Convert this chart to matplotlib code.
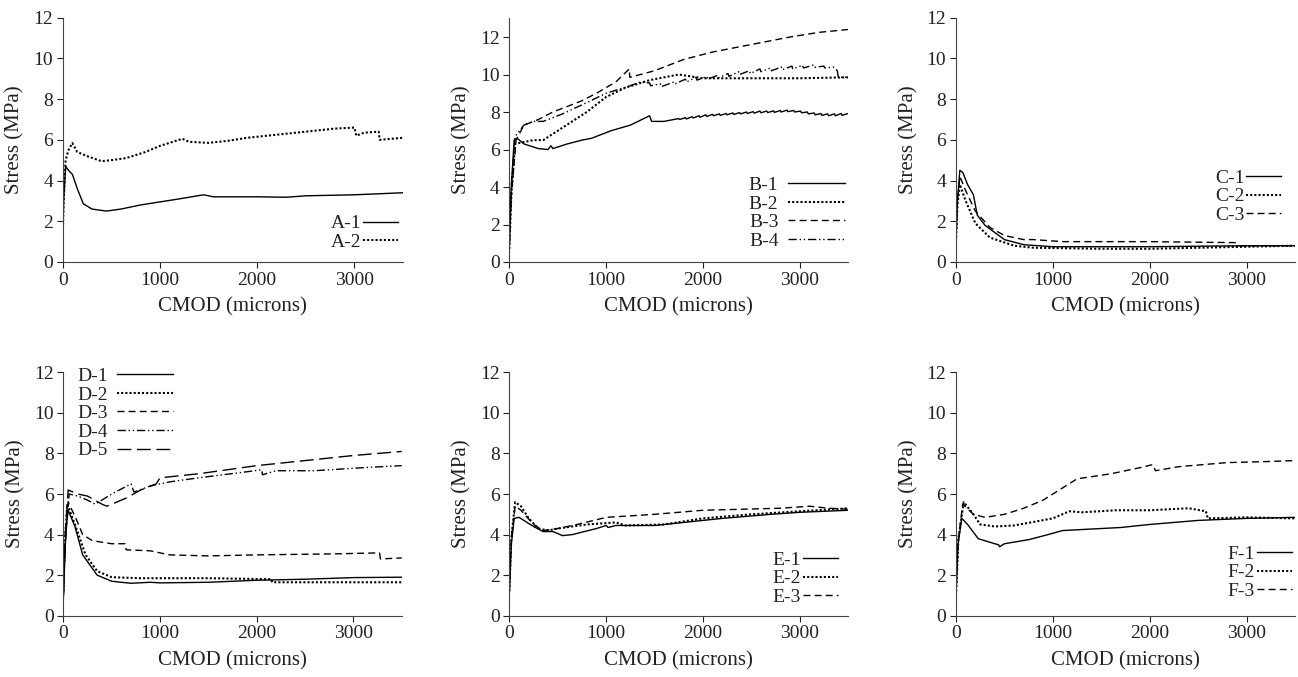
import matplotlib
matplotlib.use("Agg")
import matplotlib.pyplot as plt

plt.rcParams["font.family"] = ["Liberation Serif", "DejaVu Serif"]
plt.rcParams["text.color"] = "#222222"
plt.rcParams["axes.labelcolor"] = "#222222"
plt.rcParams["xtick.color"] = "#222222"
plt.rcParams["ytick.color"] = "#222222"

# --- panel A ---
a1_x = [0, 10, 30, 60, 100, 150, 212, 300, 450, 600, 800, 1000, 1200, 1450, 1550, 2000, 2300, 2500, 3000, 3500]
a1_y = [1.2, 3.0, 4.7, 4.5, 4.3, 3.6, 2.86, 2.6, 2.5, 2.6, 2.8, 2.95, 3.1, 3.3, 3.2, 3.2, 3.18, 3.25, 3.3, 3.4]
a2_x = [0, 10, 30, 60, 100, 150, 250, 400, 500, 650, 850, 1000, 1230, 1300, 1500, 1700, 1900, 2200, 2500, 2800, 3000, 3020, 3100, 3250, 3260, 3500]
a2_y = [1.2, 3.0, 5.0, 5.5, 5.84, 5.4, 5.2, 4.95, 5.0, 5.1, 5.4, 5.7, 6.05, 5.9, 5.85, 5.95, 6.1, 6.25, 6.4, 6.55, 6.6, 6.2, 6.35, 6.4, 6.0, 6.1]

# --- panel B ---
b1_x = [0, 20, 50, 80, 150, 300, 400, 430, 450, 600, 750, 850, 1050, 1250, 1450, 1470, 1600,
        1700, 1750, 1760, 1820, 1830, 1890, 1900, 1960, 1970, 2030, 2040, 2100, 2110, 2170, 2180,
        2240, 2250, 2310, 2320, 2380, 2390, 2450, 2460, 2520, 2530, 2590, 2600, 2660, 2670, 2730,
        2740, 2800, 2810, 2870, 2880, 2940, 2950, 3010, 3020, 3080, 3090, 3150, 3160, 3220, 3230,
        3290, 3300, 3360, 3370, 3430, 3440, 3500]
b1_y = [0.8, 4.0, 6.5, 6.6, 6.3, 6.05, 6.0, 6.2, 6.05, 6.3, 6.5, 6.6, 7.0, 7.3, 7.8, 7.5, 7.5,
        7.6, 7.65, 7.6, 7.7, 7.63, 7.75, 7.68, 7.8, 7.72, 7.85, 7.76, 7.88, 7.8, 7.9, 7.82,
        7.92, 7.85, 7.95, 7.87, 7.97, 7.9, 8.0, 7.92, 8.02, 7.94, 8.05, 7.96, 8.05, 7.97, 8.06,
        7.98, 8.08, 8.0, 8.1, 8.02, 8.08, 8.0, 8.05, 7.96, 8.0, 7.9, 7.95, 7.85, 7.92, 7.82,
        7.9, 7.8, 7.9, 7.8, 7.92, 7.82, 7.92]
b2_x = [0, 20, 60, 150, 250, 350, 500, 650, 800, 1000, 1200, 1450, 1750, 2000, 2500, 3000, 3500]
b2_y = [0.7, 3.5, 6.3, 6.4, 6.5, 6.5, 7.0, 7.5, 8.0, 8.8, 9.3, 9.7, 10.0, 9.8, 9.8, 9.8, 9.85]
b3_x = [0, 20, 70, 150, 250, 300, 450, 750, 900, 1100, 1240, 1245, 1500, 1800, 2100, 2500, 2900, 3200, 3500]
b3_y = [1.0, 3.5, 6.5, 7.3, 7.5, 7.6, 8.0, 8.6, 9.0, 9.6, 10.3, 9.85, 10.2, 10.8, 11.2, 11.6, 12.0, 12.25, 12.4]
b4_x = [0, 20, 60, 150, 250, 350, 550, 800, 1000, 1250, 1350, 1450, 1460, 1560, 1570, 1700, 1710,
        1820, 1830, 1930, 1940, 2040, 2050, 2150, 2160, 2260, 2270, 2370, 2380, 2480, 2490, 2590,
        2600, 2700, 2710, 2810, 2820, 2920, 2930, 3030, 3040, 3140, 3150, 3250, 3260, 3350, 3390,
        3400, 3500]
b4_y = [1.0, 4.0, 6.7, 7.3, 7.5, 7.5, 7.9, 8.5, 9.0, 9.4, 9.6, 9.55, 9.4, 9.5, 9.35, 9.6, 9.5,
        9.75, 9.6, 9.85, 9.7, 9.9, 9.75, 9.95, 9.82, 10.05, 9.9, 10.15, 10.0, 10.2, 10.05, 10.3,
        10.15, 10.35, 10.2, 10.4, 10.25, 10.45, 10.3, 10.5, 10.35, 10.5, 10.38, 10.45, 10.35, 10.4, 10.2,
        9.85, 9.85]

# --- panel C ---
c1_x = [0, 15, 40, 70, 120, 180, 220, 300, 500, 700, 1000, 2000, 3000, 3500]
c1_y = [1.0, 3.0, 4.5, 4.4, 3.8, 3.3, 2.3, 1.8, 1.1, 0.85, 0.75, 0.75, 0.8, 0.8]
c2_x = [0, 15, 40, 100, 200, 350, 600, 800, 1500, 2000, 3000, 3500]
c2_y = [1.0, 2.8, 3.8, 3.0, 1.9, 1.2, 0.8, 0.7, 0.65, 0.65, 0.75, 0.8]
c3_x = [0, 15, 40, 100, 200, 350, 500, 700, 800, 1100, 2000, 2900, 2920, 3500]
c3_y = [1.0, 3.0, 4.2, 3.5, 2.5, 1.7, 1.3, 1.1, 1.1, 1.0, 1.0, 0.95, 0.8, 0.8]

# --- panel D ---
d1_x = [0, 15, 30, 50, 120, 200, 350, 500, 700, 900, 1000, 1500, 2000, 2500, 3000, 3500]
d1_y = [0.8, 3.0, 4.4, 5.2, 4.4, 3.0, 2.0, 1.7, 1.6, 1.65, 1.62, 1.65, 1.75, 1.8, 1.88, 1.9]
d2_x = [0, 15, 40, 120, 230, 350, 500, 800, 1500, 2150, 2160, 3500]
d2_y = [1.2, 3.5, 5.5, 4.5, 3.0, 2.2, 1.9, 1.85, 1.85, 1.8, 1.65, 1.65]
d3_x = [0, 20, 50, 130, 200, 300, 500, 640, 650, 900, 1100, 1500, 2000, 2800, 3270, 3280, 3500]
d3_y = [1.0, 3.5, 5.6, 4.8, 4.0, 3.7, 3.55, 3.55, 3.25, 3.2, 3.0, 2.95, 3.0, 3.05, 3.1, 2.8, 2.85]
d4_x = [0, 20, 60, 150, 250, 330, 500, 700, 730, 900, 1100, 1400, 1900, 2050, 2060, 2200, 2600, 3100, 3500]
d4_y = [1.0, 4.0, 6.0, 5.9, 5.7, 5.5, 6.0, 6.5, 6.1, 6.4, 6.6, 6.8, 7.1, 7.2, 6.95, 7.15, 7.15, 7.3, 7.4]
d5_x = [0, 20, 50, 150, 250, 400, 450, 650, 800, 960, 1000, 1400, 2000, 2600, 3000, 3500]
d5_y = [1.0, 4.0, 6.2, 6.0, 5.9, 5.5, 5.4, 5.8, 6.2, 6.5, 6.8, 7.0, 7.4, 7.7, 7.9, 8.1]

# --- panel E ---
e1_x = [0, 20, 50, 100, 150, 250, 350, 450, 550, 650, 900, 1000, 1020, 1100, 1500, 1800, 2200, 2700, 3000, 3500]
e1_y = [1.1, 3.5, 4.8, 4.85, 4.7, 4.4, 4.15, 4.15, 3.95, 4.0, 4.3, 4.45, 4.35, 4.45, 4.45, 4.6, 4.8, 5.0, 5.1, 5.2]
e2_x = [0, 20, 60, 120, 200, 300, 400, 500, 800, 1100, 1200, 1600, 2000, 2500, 3000, 3500]
e2_y = [1.2, 3.8, 5.6, 5.4, 4.8, 4.3, 4.2, 4.3, 4.5, 4.6, 4.45, 4.5, 4.8, 5.0, 5.15, 5.3]
e3_x = [0, 20, 60, 120, 250, 350, 500, 700, 1000, 1500, 2000, 2800, 3100, 3300, 3500]
e3_y = [1.2, 3.8, 5.4, 5.2, 4.5, 4.2, 4.3, 4.5, 4.85, 5.0, 5.2, 5.3, 5.4, 5.3, 5.25]

# --- panel F ---
f1_x = [0, 20, 60, 120, 230, 400, 440, 450, 500, 750, 950, 1100, 1500, 1700, 2000, 2500, 3000, 3500]
f1_y = [1.0, 3.5, 4.8, 4.5, 3.8, 3.55, 3.5, 3.4, 3.55, 3.75, 4.0, 4.2, 4.3, 4.35, 4.5, 4.7, 4.8, 4.85]
f2_x = [0, 25, 80, 180, 250, 400, 600, 1000, 1170, 1300, 1650, 2000, 2400, 2580, 2600, 3000, 3500]
f2_y = [1.0, 3.8, 5.6, 5.0, 4.5, 4.4, 4.45, 4.8, 5.15, 5.1, 5.2, 5.2, 5.3, 5.15, 4.8, 4.85, 4.8]
f3_x = [0, 25, 70, 180, 300, 500, 700, 900, 1100, 1250, 1600, 1900, 2030, 2060, 2300, 2800, 3200, 3500]
f3_y = [1.0, 3.8, 5.5, 5.0, 4.85, 5.0, 5.3, 5.7, 6.3, 6.75, 7.0, 7.3, 7.45, 7.15, 7.35, 7.55, 7.6, 7.65]

# line styles
SOLID = dict(linestyle="-", linewidth=1.0)
DOT = dict(linestyle=(0, (1, 1)), linewidth=1.5)
DASH = dict(linestyle=(0, (5, 3)), linewidth=1.0)
DASHDOTDOT = dict(linestyle=(0, (6, 2, 1, 2, 1, 2)), linewidth=1.0)
LONGDASH = dict(linestyle=(0, (10, 4)), linewidth=1.0)

panels = [
    # rect, ylim top, series, legend options
    ([0.0483, 0.613, 0.2622, 0.361], 12,
     [("A-1", a1_x, a1_y, SOLID), ("A-2", a2_x, a2_y, DOT)],
     dict(loc="lower right", bbox_to_anchor=(0.985, 0.045), handlelength=1.8, handletextpad=0.1)),
    ([0.3924, 0.613, 0.2609, 0.360], 13,
     [("B-1", b1_x, b1_y, SOLID), ("B-2", b2_x, b2_y, DOT),
      ("B-3", b3_x, b3_y, DASH), ("B-4", b4_x, b4_y, DASHDOTDOT)],
     dict(loc="lower right", bbox_to_anchor=(0.99, 0.05), handlelength=2.9, handletextpad=0.5)),
    ([0.7365, 0.613, 0.2612, 0.361], 12,
     [("C-1", c1_x, c1_y, SOLID), ("C-2", c2_x, c2_y, DOT), ("C-3", c3_x, c3_y, DASH)],
     dict(loc="center right", bbox_to_anchor=(0.96, 0.268), handlelength=1.8, handletextpad=0.1)),
    ([0.0488, 0.0905, 0.2607, 0.3595], 12,
     [("D-1", d1_x, d1_y, SOLID), ("D-2", d2_x, d2_y, DOT), ("D-3", d3_x, d3_y, DASH),
      ("D-4", d4_x, d4_y, DASHDOTDOT), ("D-5", d5_x, d5_y, LONGDASH)],
     dict(loc="upper left", bbox_to_anchor=(0.042, 1.02), handlelength=2.9, handletextpad=0.45)),
    ([0.3924, 0.0905, 0.2611, 0.3595], 12,
     [("E-1", e1_x, e1_y, SOLID), ("E-2", e2_x, e2_y, DOT), ("E-3", e3_x, e3_y, DASH)],
     dict(loc="lower right", bbox_to_anchor=(0.97, 0.04), handlelength=1.8, handletextpad=0.1)),
    ([0.7365, 0.0905, 0.2612, 0.3595], 12,
     [("F-1", f1_x, f1_y, SOLID), ("F-2", f2_x, f2_y, DOT), ("F-3", f3_x, f3_y, DASH)],
     dict(loc="lower right", bbox_to_anchor=(0.99, 0.065), handlelength=1.8, handletextpad=0.1)),
]

fig = plt.figure(figsize=(12.98, 6.77), dpi=100, facecolor="white")

for rect, ytop, series, leg in panels:
    ax = fig.add_axes(rect)
    for label, xs, ys, style in series:
        ax.plot(xs, ys, color="black", label=label, **style)
    ax.set_xlim(0, 3500)
    ax.set_ylim(0, ytop)
    ax.set_xticks([0, 1000, 2000, 3000])
    ax.set_yticks(range(0, 13, 2))
    ax.spines["top"].set_visible(False)
    ax.spines["right"].set_visible(False)
    for s in ("left", "bottom"):
        ax.spines[s].set_linewidth(0.8)
        ax.spines[s].set_color("#444444")
    ax.tick_params(direction="out", length=4, width=0.8, labelsize=14, pad=3)
    ax.set_xlabel("CMOD (microns)", fontsize=15, labelpad=6)
    ax.set_ylabel("Stress (MPa)", fontsize=15, labelpad=6)
    ax.legend(frameon=False, markerfirst=False, fontsize=14, labelspacing=0.05,
              borderpad=0.0, borderaxespad=0.0, **leg)

fig.savefig("out.png", dpi=100)
